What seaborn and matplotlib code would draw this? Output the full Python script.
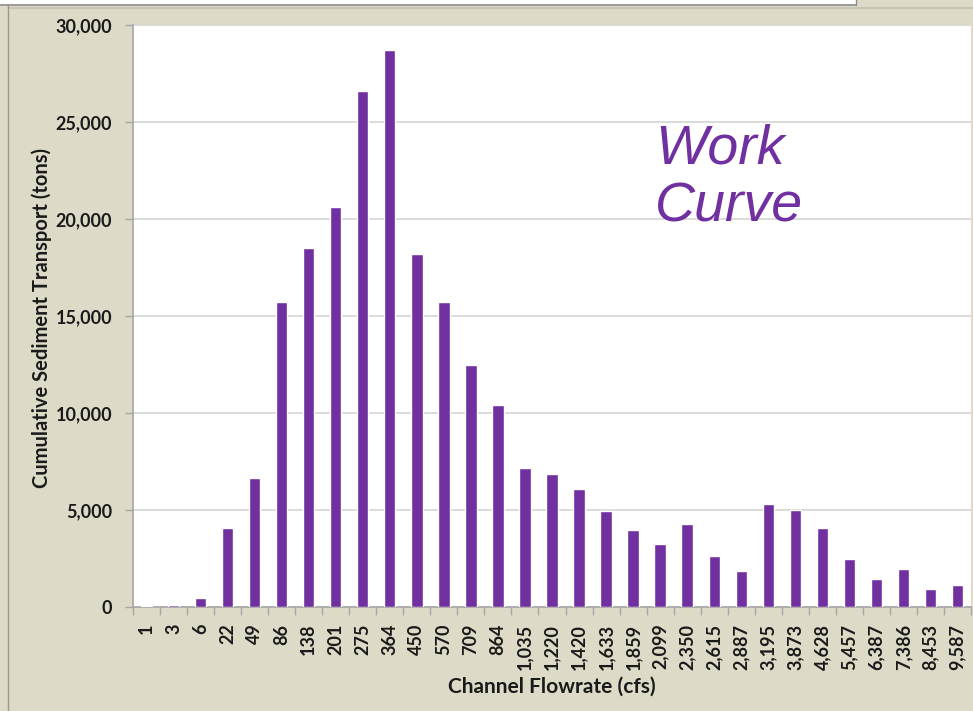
import matplotlib
matplotlib.use("Agg")
import matplotlib.pyplot as plt
from matplotlib.patches import Rectangle
from matplotlib.lines import Line2D
from matplotlib.ticker import FuncFormatter, FixedLocator
import seaborn as sns
import pandas as pd

flow_labels = ["1", "3", "6", "22", "49", "86", "138", "201", "275", "364", "450",
               "570", "709", "864", "1,035", "1,220", "1,420", "1,633", "1,859",
               "2,099", "2,350", "2,615", "2,887", "3,195", "3,873", "4,628",
               "5,457", "6,387", "7,386", "8,453", "9,587"]
sediment_tons = [50, 80, 450, 4050, 6650, 15700, 18500, 20600, 26600, 28700, 18200,
                 15700, 12500, 10400, 7150, 6850, 6100, 4950, 3950,
                 3250, 4300, 2650, 1850, 5300, 5000, 4050,
                 2450, 1450, 1950, 950, 1150]
y_ticks = [0, 5000, 10000, 15000, 20000, 25000, 30000]

PURPLE = "#7030a0"
BEIGE = "#dddbc7"
INK = "#1a1a1a"

sns.set_theme(style="white")
plt.rcParams["font.family"] = ["Lato", "DejaVu Sans"]

df = pd.DataFrame({"flow": flow_labels, "tons": sediment_tons})

W, H = 973, 711
fig = plt.figure(figsize=(W / 100, H / 100), dpi=100)
fig.patch.set_facecolor(BEIGE)

# frame decorations along the top and left edges
fig.patches.append(Rectangle((0, 1 - 5 / H), 856 / W, 5 / H, transform=fig.transFigure,
                             facecolor="white", edgecolor="none", zorder=0))
fig.lines.append(Line2D([0, 856 / W], [1 - 5 / H, 1 - 5 / H], transform=fig.transFigure,
                        color="#8c8c8c", lw=1.2))
fig.lines.append(Line2D([856 / W, 856 / W], [1 - 5 / H, 1], transform=fig.transFigure,
                        color="#8c8c8c", lw=1.0))
fig.lines.append(Line2D([8 / W, 1], [1 - 8 / H, 1 - 8 / H], transform=fig.transFigure,
                        color="#c9c7b3", lw=1.5))
fig.lines.append(Line2D([8 / W, 8 / W], [0, 1 - 5 / H], transform=fig.transFigure,
                        color="#9a9a8c", lw=1.0))

ax_l, ax_r, ax_t, ax_b = 133, 971, 25, 607
ax = fig.add_axes([ax_l / W, 1 - ax_b / H, (ax_r - ax_l) / W, (ax_b - ax_t) / H])
ax.set_facecolor("white")

sns.barplot(data=df, x="flow", y="tons", color=PURPLE, width=0.42,
            saturation=1, ax=ax, zorder=3)

ax.set_ylim(0, 30000)
ax.set_xlim(-0.5, len(flow_labels) - 0.5)
ax.set_yticks(y_ticks)
ax.yaxis.set_major_formatter(FuncFormatter(lambda v, p: f"{int(v):,}"))
ax.grid(axis="y", color="#d4d4d4", lw=1.2, zorder=0)
ax.set_axisbelow(True)

for s in ["top", "right"]:
    ax.spines[s].set_visible(False)
for s in ["left", "bottom"]:
    ax.spines[s].set_color("#a6a6a6")
    ax.spines[s].set_linewidth(1.2)

ax.tick_params(axis="y", which="major", length=6, width=1, color="#a6a6a6",
               labelsize=13, labelcolor=INK, pad=9, left=True)
ax.tick_params(axis="x", which="major", length=0, labelsize=13,
               labelcolor=INK, pad=12, labelrotation=90)
ax.xaxis.set_minor_locator(FixedLocator([i - 0.5 for i in range(len(flow_labels) + 1)]))
ax.tick_params(axis="x", which="minor", length=6, width=1, color="#a6a6a6", bottom=True)

for lbl in ax.get_xticklabels() + ax.get_yticklabels():
    lbl.set_fontweight("bold")

ax.set_xlabel("Channel Flowrate (cfs)", fontsize=15, fontweight="bold",
              color=INK, va="center")
ax.set_ylabel("Cumulative Sediment Transport (tons)", fontsize=14.5,
              fontweight="bold", color=INK, va="center")
ax.xaxis.set_label_coords(((552 - ax_l) / (ax_r - ax_l)), (ax_b - 687) / (ax_b - ax_t))
ax.yaxis.set_label_coords((42 - ax_l) / (ax_r - ax_l), (ax_b - 318) / (ax_b - ax_t))

for word, base_y in [("Work", 163), ("Curve", 221)]:
    fig.text(655 / W, 1 - base_y / H, word, family=["Liberation Sans"],
             style="italic", fontsize=40, color=PURPLE, ha="left", va="baseline")

fig.savefig("out.png", dpi=100, facecolor=fig.get_facecolor())
